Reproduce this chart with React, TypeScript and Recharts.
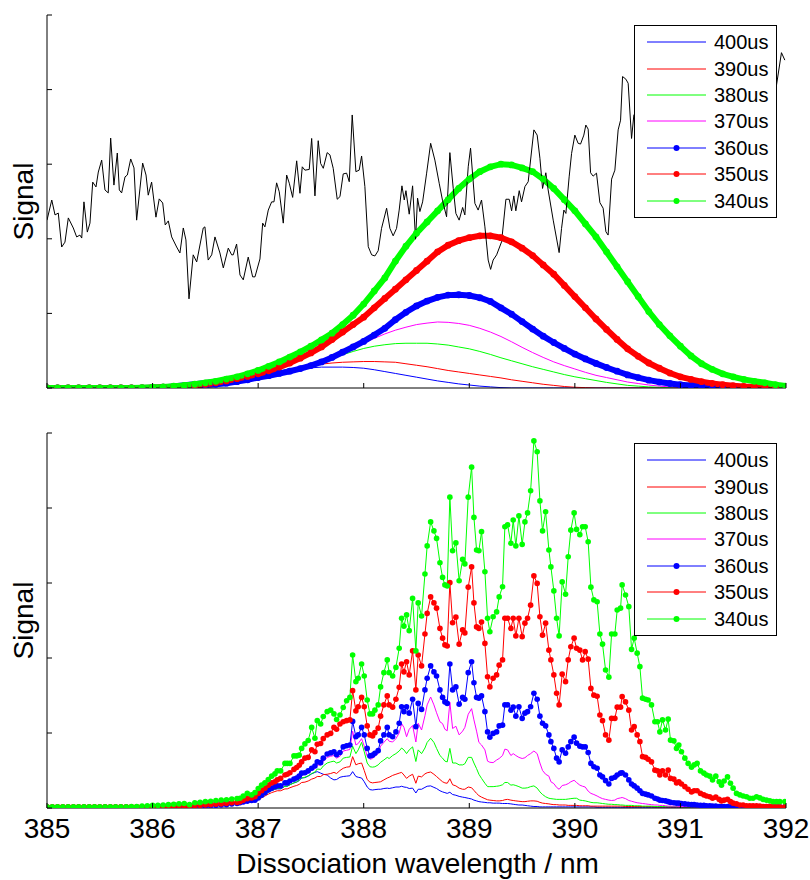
import React from "react";
import { LineChart, Line, XAxis, YAxis } from "recharts";

const FONT = "'Liberation Sans', Arial, Helvetica, sans-serif";
const BLUE = "#0000ff";
const RED = "#ff0000";
const GREEN = "#00ff00";
const MAGENTA = "#ff00ff";

const xTicks = [385, 386, 387, 388, 389, 390, 391, 392];
const yTicks = [0, 20, 40, 60, 80, 100];

const legendNames = ["400us", "390us", "380us", "370us", "360us", "350us", "340us"];
const legendColors = [BLUE, RED, GREEN, MAGENTA, BLUE, RED, GREEN];
const legendDots = [false, false, false, false, true, true, true];

// ---- top panel: smooth profiles, 0.1 nm steps ----
const topWl = [
  385.0, 385.1, 385.2, 385.3, 385.4, 385.5, 385.6, 385.7, 385.8, 385.9,
  386.0, 386.1, 386.2, 386.3, 386.4, 386.5, 386.6, 386.7, 386.8, 386.9,
  387.0, 387.1, 387.2, 387.3, 387.4, 387.5, 387.6, 387.7, 387.8, 387.9,
  388.0, 388.1, 388.2, 388.3, 388.4, 388.5, 388.6, 388.7, 388.8, 388.9,
  389.0, 389.1, 389.2, 389.3, 389.4, 389.5, 389.6, 389.7, 389.8, 389.9,
  390.0, 390.1, 390.2, 390.3, 390.4, 390.5, 390.6, 390.7, 390.8, 390.9,
  391.0, 391.1, 391.2, 391.3, 391.4, 391.5, 391.6, 391.7, 391.8, 391.9,
  392.0,
];
const top400 = [
  0, 0, 0, 0, 0, 0, 0, 0.1, 0.2, 0.4,
  0.6, 0.8, 1.1, 1.4, 1.7, 2.0, 2.4, 2.8, 3.2, 3.6,
  4.0, 4.3, 4.6, 4.9, 5.2, 5.4, 5.6, 5.6, 5.6, 5.5,
  5.3, 4.9, 4.4, 3.9, 3.4, 2.9, 2.4, 1.9, 1.5, 1.1,
  0.8, 0.5, 0.3, 0.1, 0, 0, 0, 0, 0, 0,
  0, 0, 0, 0, 0, 0, 0, 0, 0, 0,
  0, 0, 0, 0, 0, 0, 0, 0, 0, 0,
  0,
];
const top390 = [
  0, 0, 0, 0, 0, 0, 0, 0.1, 0.2, 0.3,
  0.4, 0.6, 0.8, 1.0, 1.3, 1.6, 2.0, 2.4, 2.8, 3.2,
  3.6, 4.0, 4.5, 5.0, 5.5, 6.0, 6.4, 6.7, 6.9, 7.0,
  7.1, 7.1, 7.0, 6.9, 6.5, 6.1, 5.7, 5.2, 4.7, 4.3,
  3.9, 3.5, 3.1, 2.7, 2.2, 1.8, 1.4, 1.0, 0.7, 0.4,
  0.2, 0.1, 0, 0, 0, 0, 0, 0, 0, 0,
  0, 0, 0, 0, 0, 0, 0, 0, 0, 0,
  0,
];
const top380 = [
  0, 0, 0, 0, 0, 0, 0, 0.1, 0.2, 0.3,
  0.4, 0.6, 0.8, 1.0, 1.3, 1.6, 2.0, 2.4, 2.8, 3.2,
  3.6, 4.0, 4.4, 4.9, 5.4, 6.0, 6.9, 7.9, 8.9, 9.8,
  10.6, 11.2, 11.6, 11.9, 12.0, 12.0, 12.0, 11.8, 11.5, 11.0,
  10.5, 9.8, 9.0, 8.1, 7.3, 6.5, 5.7, 5.0, 4.3, 3.6,
  3.0, 2.5, 2.0, 1.5, 1.1, 0.7, 0.5, 0.3, 0.2, 0.1,
  0, 0, 0, 0, 0, 0, 0, 0, 0, 0,
  0,
];
const top370 = [
  0, 0, 0, 0, 0, 0, 0, 0.1, 0.2, 0.3,
  0.4, 0.6, 0.8, 1.0, 1.3, 1.6, 2.0, 2.4, 2.8, 3.2,
  3.6, 4.0, 4.4, 4.9, 5.4, 6.1, 7.0, 8.1, 9.3, 10.6,
  12.0, 13.3, 14.5, 15.5, 16.3, 17.0, 17.4, 17.7, 17.6, 17.3,
  16.8, 16.0, 15.0, 13.8, 12.4, 10.9, 9.5, 8.2, 7.0, 6.0,
  5.1, 4.2, 3.4, 2.8, 2.2, 1.6, 1.2, 0.8, 0.5, 0.3,
  0.2, 0.1, 0, 0, 0, 0, 0, 0, 0, 0,
  0,
];
const top360 = [
  0, 0, 0, 0, 0, 0, 0, 0, 0, 0,
  0.1, 0.2, 0.3, 0.4, 0.6, 0.8, 1.0, 1.3, 1.7, 2.2,
  2.8, 3.3, 3.9, 4.5, 5.2, 6.0, 7.0, 8.2, 9.6, 11.0,
  12.5, 14.2, 16.0, 18.3, 20.3, 22.0, 23.3, 24.3, 24.9, 25.0,
  24.8, 24.2, 23.2, 21.5, 19.8, 17.8, 15.8, 13.9, 12.2, 10.6,
  9.1, 7.8, 6.6, 5.5, 4.5, 3.5, 2.8, 2.1, 1.6, 1.2,
  0.9, 0.7, 0.5, 0.3, 0.2, 0.1, 0, 0, 0, 0,
  0,
];
const top350 = [
  0, 0, 0, 0, 0, 0, 0, 0, 0, 0,
  0.1, 0.2, 0.3, 0.5, 0.7, 1.0, 1.4, 1.9, 2.5, 3.1,
  3.8, 4.6, 5.6, 6.7, 8.0, 9.4, 11.0, 13.0, 15.0, 17.0,
  19.0, 21.5, 24.0, 26.5, 29.0, 31.5, 34.0, 36.5, 38.3, 39.5,
  40.3, 40.8, 40.8, 40.3, 39.2, 37.5, 35.5, 33.0, 30.5, 27.5,
  24.5, 21.5, 18.5, 15.7, 13.0, 10.5, 8.5, 6.7, 5.3, 4.0,
  3.0, 2.3, 1.7, 1.2, 0.9, 0.6, 0.4, 0.3, 0.2, 0.1,
  0,
];
const top340 = [
  0, 0, 0, 0, 0, 0, 0, 0, 0, 0.1,
  0.2, 0.3, 0.5, 0.7, 1.0, 1.4, 1.8, 2.4, 3.0, 3.8,
  4.7, 5.8, 7.0, 8.3, 9.7, 11.2, 12.9, 14.7, 17.0, 19.5,
  22.5, 26.0, 29.5, 34.0, 38.0, 41.5, 44.5, 47.5, 50.5, 53.5,
  56.0, 58.0, 59.3, 60.0, 59.8, 59.0, 58.0, 56.0, 53.5, 50.5,
  47.5, 44.0, 40.5, 36.5, 32.5, 28.5, 24.5, 20.5, 17.0, 14.0,
  11.2, 8.6, 6.5, 5.0, 3.8, 3.0, 2.3, 1.8, 1.4, 0.9,
  0.5,
];

// noisy black reference trace (wavelength, signal)
const blackTrace: [number, number][] = [
  [385.0, 45.0], [385.045, 50.4], [385.076, 46.4], [385.107, 46.9], [385.139, 37.8],
  [385.17, 39.1], [385.202, 45.6], [385.249, 42.9], [385.281, 40.5], [385.312, 41.0],
  [385.329, 40.2], [385.35, 49.9], [385.382, 41.8], [385.407, 44.2], [385.433, 55.2],
  [385.464, 53.9], [385.486, 57.9], [385.518, 61.1], [385.549, 53.1], [385.58, 52.3],
  [385.603, 67.0], [385.634, 54.4], [385.666, 63.0], [385.685, 53.1], [385.707, 52.3],
  [385.739, 56.6], [385.761, 57.1], [385.793, 61.4], [385.824, 59.0], [385.849, 45.0],
  [385.881, 53.6], [385.906, 60.3], [385.938, 57.1], [385.959, 51.7], [385.991, 55.2],
  [386.032, 45.8], [386.063, 50.7], [386.096, 49.6], [386.12, 43.7], [386.149, 44.8],
  [386.181, 40.5], [386.228, 37.8], [386.259, 36.2], [386.291, 42.9], [386.316, 39.7],
  [386.345, 23.9], [386.385, 35.7], [386.418, 33.8], [386.48, 42.9], [386.496, 43.2],
  [386.527, 34.3], [386.56, 35.7], [386.591, 40.5], [386.638, 36.2], [386.67, 32.2],
  [386.717, 37.5], [386.749, 35.7], [386.764, 35.7], [386.796, 38.6], [386.828, 30.3],
  [386.859, 29.0], [386.906, 35.1], [386.948, 29.8], [386.97, 29.8], [387.017, 34.6],
  [387.043, 44.2], [387.064, 43.2], [387.096, 47.7], [387.128, 49.9], [387.15, 49.9],
  [387.175, 55.0], [387.2, 52.6], [387.238, 44.2], [387.27, 57.1], [387.295, 54.9],
  [387.327, 51.1], [387.365, 60.9], [387.396, 52.2], [387.418, 59.3], [387.443, 58.4],
  [387.484, 58.6], [387.507, 66.9], [387.538, 51.5], [387.569, 66.3], [387.592, 60.2],
  [387.617, 58.9], [387.654, 63.1], [387.68, 62.5], [387.711, 58.9], [387.749, 50.6],
  [387.775, 51.3], [387.806, 57.4], [387.838, 57.6], [387.863, 55.3], [387.891, 73.2],
  [387.926, 58.0], [387.957, 58.4], [387.98, 62.2], [388.011, 54.0], [388.043, 37.9],
  [388.075, 35.7], [388.106, 35.4], [388.137, 36.8], [388.169, 42.8], [388.217, 48.2],
  [388.248, 42.8], [388.279, 40.8], [388.311, 42.8], [388.336, 47.7], [388.362, 54.2],
  [388.384, 50.4], [388.4, 52.9], [388.431, 46.6], [388.463, 54.2], [388.491, 39.9],
  [388.51, 50.9], [388.532, 47.3], [388.558, 49.9], [388.596, 57.6], [388.634, 65.6],
  [388.674, 61.1], [388.715, 54.9], [388.747, 50.2], [388.785, 45.9], [388.816, 63.1],
  [388.848, 53.5], [388.873, 46.8], [388.904, 45.0], [388.937, 48.4], [388.958, 46.4],
  [388.99, 59.3], [389.012, 64.3], [389.053, 49.5], [389.084, 47.7], [389.116, 50.4],
  [389.148, 43.2], [389.179, 34.3], [389.202, 31.8], [389.226, 34.3], [389.259, 35.7],
  [389.306, 39.2], [389.347, 50.6], [389.378, 50.6], [389.401, 47.5], [389.422, 51.5],
  [389.441, 47.5], [389.473, 52.9], [389.495, 49.9], [389.527, 54.0], [389.558, 55.3],
  [389.612, 69.2], [389.643, 67.8], [389.669, 61.6], [389.694, 53.5], [389.725, 57.7],
  [389.747, 53.1], [389.795, 45.0], [389.851, 36.3], [389.874, 42.8], [389.896, 47.7],
  [389.915, 46.8], [389.946, 56.6], [389.969, 62.9], [390.0, 67.8], [390.031, 65.6],
  [390.054, 65.4], [390.085, 67.8], [390.104, 70.5], [390.126, 69.4], [390.149, 57.7],
  [390.173, 56.8], [390.205, 57.6], [390.237, 49.7], [390.268, 48.2], [390.294, 41.9],
  [390.315, 41.0], [390.348, 56.0], [390.379, 58.4], [390.41, 69.2], [390.433, 71.8],
  [390.452, 83.5], [390.483, 82.8], [390.505, 81.7], [390.537, 66.9], [390.559, 73.2],
  [390.65, 76.0], [390.8, 80.0], [391.0, 78.0], [391.2, 83.0], [391.4, 79.0],
  [391.6, 81.0], [391.8, 76.0], [391.903, 79.9], [391.957, 89.9], [391.989, 87.9],
];

// ---- bottom panel: structured spectra ----
const botWl = [
  385.0, 385.05, 385.1, 385.15, 385.2, 385.25, 385.3, 385.35, 385.4, 385.45,
  385.5, 385.55, 385.6, 385.65, 385.7, 385.75, 385.8, 385.85, 385.9, 385.95,
  386.0, 386.05, 386.1, 386.15, 386.2, 386.25, 386.3, 386.35, 386.4, 386.45,
  386.5, 386.55, 386.6, 386.65, 386.7, 386.75, 386.8,
  386.828, 386.859, 386.897, 386.938, 386.97, 387.001, 387.033, 387.064, 387.096, 387.128,
  387.159, 387.181, 387.213, 387.254, 387.276, 387.301, 387.339, 387.365, 387.389, 387.412,
  387.443, 387.474, 387.507, 387.538, 387.56, 387.592, 387.617, 387.654, 387.687, 387.718,
  387.743, 387.775, 387.806, 387.838, 387.869, 387.895, 387.926, 387.948, 387.98, 388.005,
  388.033, 388.059, 388.084, 388.106, 388.137, 388.16, 388.191, 388.223, 388.241, 388.274,
  388.305, 388.336, 388.359, 388.381, 388.406, 388.431, 388.463, 388.494, 388.516, 388.548,
  388.58, 388.601, 388.634, 388.665, 388.69, 388.722, 388.747, 388.769, 388.791, 388.816,
  388.842, 388.873, 388.904, 388.937, 388.958, 388.99, 389.022, 389.044, 389.069, 389.091,
  389.116, 389.148, 389.173, 389.195, 389.226, 389.259, 389.283, 389.315, 389.337, 389.363,
  389.394, 389.416, 389.441, 389.47, 389.501, 389.527, 389.552, 389.581, 389.612, 389.643,
  389.669, 389.694, 389.723, 389.754, 389.773, 389.801, 389.827, 389.851, 389.88, 389.912,
  389.937, 389.962, 389.993, 390.016, 390.047, 390.073, 390.098, 390.126, 390.152, 390.18,
  390.211, 390.237, 390.262, 390.291, 390.322, 390.348, 390.379, 390.401, 390.433, 390.448,
  390.48, 390.511, 390.537, 390.562, 390.59, 390.616, 390.641, 390.67, 390.694, 390.726,
  390.758, 390.783, 390.805, 390.83, 390.859, 390.884, 390.906, 390.938, 390.963, 390.985,
  391.01, 391.042, 391.073, 391.105, 391.13, 391.158, 391.19, 391.222, 391.247, 391.278,
  391.304, 391.335, 391.367, 391.389, 391.414, 391.446, 391.474, 391.499, 391.531, 391.563,
  391.594, 391.626, 391.657, 391.688, 391.721, 391.752, 391.783, 391.815, 391.847, 391.878,
  391.91, 391.941, 391.989,
];
const bot400 = [
  0, 0, 0, 0, 0, 0, 0, 0, 0, 0,
  0, 0, 0, 0, 0, 0.1, 0.3, 0.4, 0.5, 0.7,
  0.8, 1.0, 0.9, 1.1, 1.3, 1.2, 1.4, 0.9, 1.5, 1.7,
  1.6, 1.8, 1.9, 1.7, 1.8, 1.6, 1.4,
  1.3, 1.5, 1.7, 1.8, 1.9, 2.4, 3.0, 3.6, 4.2, 4.6,
  5.0, 5.1, 5.1, 5.8, 5.8, 6.2, 6.7, 6.9, 7.3, 8.0,
  8.1, 8.5, 9.1, 9.5, 9.7, 9.3, 9.0, 8.8, 8.0, 7.5,
  7.6, 8.2, 8.4, 8.5, 8.6, 9.7, 8.4, 8.2, 8.0, 7.0,
  5.6, 4.9, 4.8, 4.9, 5.0, 5.0, 5.2, 5.3, 5.2, 5.4,
  5.6, 5.6, 5.8, 5.6, 5.5, 5.2, 5.3, 4.0, 5.0, 5.0,
  5.5, 5.8, 5.9, 5.5, 5.2, 4.6, 4.3, 4.1, 3.9, 4.2,
  3.6, 3.4, 3.1, 2.9, 2.8, 2.6, 2.4, 2.1, 1.9, 1.7,
  1.6, 1.5, 1.4, 1.4, 1.3, 1.3, 1.3, 1.2, 1.2, 1.2,
  1.1, 1.0, 0.9, 0.8, 0.8, 0.7, 0.6, 0.5, 0.4, 0.4,
  0.3, 0.3, 0.3, 0.3, 0.3, 0.3, 0.3, 0.3, 0.3, 0.3,
  0.3, 0.3, 0.3, 0.3, 0.3, 0.3, 0.3, 0.3, 0.3, 0.3,
  0.2, 0.2, 0.2, 0.2, 0.2, 0.2, 0.2, 0.2, 0.2, 0.2,
  0.2, 0.2, 0.2, 0.2, 0.2, 0.2, 0.2, 0.2, 0.2, 0.2,
  0.2, 0.2, 0.2, 0.2, 0.2, 0.2, 0.2, 0.2, 0.2, 0.2,
  0.2, 0.2, 0.2, 0.2, 0.2, 0.2, 0.2, 0.2, 0.2, 0.2,
  0.2, 0.2, 0.2, 0.2, 0.2, 0.2, 0.2, 0.2, 0.2, 0.2,
  0.2, 0.2, 0.2, 0.2, 0.2, 0.2, 0.2, 0.2, 0.2, 0.2,
  0.2, 0.2, 0.2,
];
const bot390 = [
  0, 0, 0, 0, 0, 0, 0, 0, 0, 0,
  0, 0, 0, 0, 0, 0.1, 0.2, 0.3, 0.4, 0.5,
  0.6, 0.7, 0.8, 0.8, 1.0, 1.1, 1.0, 0.8, 1.2, 1.3,
  1.3, 1.4, 1.4, 1.5, 1.4, 1.3, 1.1,
  1.1, 1.3, 1.5, 1.6, 1.7, 2.2, 2.7, 3.2, 3.7, 4.1,
  4.4, 4.6, 4.6, 5.1, 5.1, 5.4, 5.8, 6.0, 6.3, 6.8,
  6.9, 7.2, 7.7, 8.0, 8.4, 8.4, 8.9, 9.0, 9.2, 9.5,
  9.2, 10.0, 10.6, 10.9, 11.0, 13.7, 11.5, 11.8, 12.0, 10.0,
  7.6, 6.9, 6.7, 6.8, 6.9, 7.0, 7.5, 8.0, 8.2, 8.7,
  9.0, 9.3, 9.5, 8.8, 7.9, 8.5, 9.0, 6.6, 8.5, 8.3,
  9.1, 9.4, 9.6, 9.0, 8.4, 7.6, 7.0, 6.7, 6.6, 7.8,
  6.2, 5.9, 5.3, 5.0, 5.0, 5.6, 5.4, 4.7, 3.9, 3.3,
  2.9, 2.5, 2.2, 2.1, 2.0, 1.9, 1.9, 2.0, 2.2, 2.3,
  2.1, 2.0, 1.9, 1.8, 1.7, 1.7, 1.8, 1.9, 1.9, 1.8,
  1.5, 1.3, 1.2, 1.1, 1.0, 0.9, 0.9, 0.8, 0.8, 0.8,
  0.7, 0.7, 0.7, 0.7, 0.6, 0.6, 0.6, 0.6, 0.5, 0.5,
  0.5, 0.5, 0.5, 0.5, 0.5, 0.5, 0.5, 0.5, 0.5, 0.5,
  0.4, 0.4, 0.4, 0.4, 0.4, 0.4, 0.4, 0.4, 0.4, 0.4,
  0.3, 0.3, 0.3, 0.3, 0.3, 0.3, 0.3, 0.3, 0.3, 0.3,
  0.3, 0.3, 0.3, 0.3, 0.3, 0.3, 0.3, 0.3, 0.3, 0.3,
  0.3, 0.3, 0.3, 0.3, 0.3, 0.3, 0.3, 0.3, 0.3, 0.3,
  0.3, 0.3, 0.3, 0.3, 0.3, 0.3, 0.3, 0.3, 0.3, 0.3,
  0.3, 0.3, 0.3,
];
const bot380 = [
  0, 0, 0, 0, 0, 0, 0, 0, 0, 0,
  0, 0, 0, 0, 0, 0.1, 0.2, 0.3, 0.4, 0.5,
  0.6, 0.7, 0.7, 0.9, 1.0, 1.1, 1.1, 0.8, 1.2, 1.4,
  1.4, 1.4, 1.5, 1.5, 1.5, 1.4, 1.2,
  1.2, 1.4, 1.6, 1.8, 1.9, 2.4, 3.0, 3.6, 4.2, 4.7,
  5.0, 5.2, 5.2, 5.8, 5.8, 6.2, 6.7, 7.0, 7.4, 8.0,
  8.2, 8.6, 9.2, 9.6, 10.4, 10.3, 11.2, 12.0, 12.3, 12.5,
  12.0, 12.3, 13.3, 13.5, 13.6, 16.5, 14.5, 15.5, 17.5, 15.0,
  12.0, 11.0, 10.9, 11.0, 11.5, 12.2, 12.8, 13.5, 13.2, 14.0,
  14.5, 15.2, 16.0, 15.5, 14.5, 15.5, 16.3, 12.4, 15.5, 14.5,
  16.0, 17.5, 18.6, 17.5, 15.9, 14.0, 13.3, 12.5, 12.3, 15.9,
  12.0, 12.0, 11.5, 11.5, 11.8, 13.5, 13.5, 12.0, 10.5, 9.0,
  7.9, 6.6, 5.7, 5.7, 5.7, 5.8, 5.9, 6.2, 6.8, 6.8,
  6.1, 6.2, 6.0, 5.7, 5.3, 5.3, 5.4, 5.7, 5.9, 5.3,
  4.3, 3.6, 3.0, 2.6, 2.5, 2.4, 2.3, 2.3, 2.3, 2.3,
  2.4, 2.5, 2.6, 2.6, 2.1, 2.0, 1.9, 1.7, 1.5, 1.4,
  1.4, 1.3, 1.2, 1.1, 1.0, 1.0, 0.9, 0.9, 0.8, 0.8,
  0.7, 0.7, 0.7, 0.6, 0.6, 0.6, 0.5, 0.5, 0.5, 0.5,
  0.4, 0.4, 0.4, 0.4, 0.4, 0.4, 0.4, 0.4, 0.4, 0.4,
  0.3, 0.3, 0.3, 0.3, 0.3, 0.3, 0.3, 0.3, 0.3, 0.3,
  0.2, 0.2, 0.2, 0.2, 0.2, 0.2, 0.2, 0.2, 0.2, 0.2,
  0.2, 0.2, 0.2, 0.2, 0.2, 0.2, 0.2, 0.2, 0.2, 0.2,
  0.2, 0.2, 0.2,
];
const bot370 = [
  0, 0, 0, 0, 0, 0, 0, 0, 0, 0,
  0, 0, 0, 0, 0, 0.1, 0.2, 0.3, 0.4, 0.5,
  0.6, 0.8, 0.7, 0.9, 1.0, 1.2, 1.1, 0.8, 1.3, 1.5,
  1.4, 1.5, 1.6, 1.5, 1.6, 1.5, 1.3,
  1.3, 1.5, 1.7, 1.9, 2.0, 2.6, 3.2, 3.9, 4.5, 5.0,
  5.4, 5.6, 5.6, 6.3, 6.3, 6.8, 7.3, 7.6, 8.0, 8.8,
  8.9, 9.3, 10.0, 10.5, 11.5, 11.4, 12.5, 13.5, 13.8, 14.0,
  13.3, 13.8, 15.2, 15.4, 15.6, 20.5, 16.8, 17.2, 18.5, 16.5,
  13.8, 13.0, 13.2, 13.8, 14.5, 16.5, 17.5, 18.5, 17.8, 17.6,
  18.5, 20.0, 22.5, 21.5, 19.0, 21.0, 22.0, 17.6, 22.6, 20.8,
  24.6, 27.5, 29.6, 27.5, 25.4, 23.0, 22.5, 21.0, 20.6, 28.2,
  21.2, 21.8, 19.5, 20.5, 21.5, 25.0, 26.5, 23.5, 20.5, 17.5,
  16.8, 15.5, 12.5, 12.2, 12.1, 12.8, 13.2, 14.0, 15.7, 15.5,
  14.0, 14.5, 14.0, 13.5, 13.2, 13.4, 14.0, 14.5, 15.2, 14.5,
  12.0, 10.0, 9.0, 8.5, 7.0, 6.5, 5.5, 5.0, 6.0, 6.2,
  6.5, 7.0, 7.4, 6.8, 6.1, 5.8, 5.6, 4.5, 3.9, 3.6,
  3.2, 2.8, 2.5, 2.3, 2.1, 2.0, 2.1, 2.5, 2.7, 2.8,
  2.5, 2.0, 1.8, 1.6, 1.4, 1.3, 1.2, 1.1, 1.0, 0.9,
  0.8, 0.8, 0.7, 0.7, 0.6, 0.5, 0.5, 0.5, 0.5, 0.4,
  0.4, 0.4, 0.4, 0.4, 0.3, 0.3, 0.3, 0.3, 0.3, 0.3,
  0.3, 0.3, 0.3, 0.3, 0.3, 0.3, 0.3, 0.3, 0.3, 0.3,
  0.2, 0.2, 0.2, 0.2, 0.2, 0.2, 0.2, 0.2, 0.2, 0.2,
  0.2, 0.2, 0.2,
];
const bot360 = [
  0.2, 0.2, 0.2, 0.2, 0.2, 0.2, 0.2, 0.2, 0.2, 0.2,
  0.2, 0.2, 0.2, 0.2, 0.2, 0.2, 0.2, 0.2, 0.2, 0.2,
  0.2, 0.2, 0.2, 0.2, 0.3, 0.3, 0.3, 0.2, 0.4, 0.5,
  0.5, 0.6, 0.7, 0.8, 0.9, 1.1, 1.2,
  1.4, 1.6, 1.8, 2.0, 2.1, 2.7, 3.4, 4.1, 4.8, 5.3,
  5.7, 5.9, 5.9, 6.7, 6.7, 7.2, 7.7, 8.0, 8.5, 9.3,
  9.4, 9.9, 10.6, 11.2, 12.3, 12.1, 13.3, 14.4, 14.7, 15.0,
  14.2, 14.8, 16.3, 16.6, 16.8, 23.1, 19.0, 19.5, 21.5, 19.5,
  15.9, 13.9, 14.1, 14.6, 15.3, 17.9, 19.5, 21.5, 19.5, 19.0,
  20.3, 22.6, 27.0, 25.7, 27.0, 25.3, 29.0, 21.7, 27.9, 26.3,
  31.5, 34.6, 37.9, 36.3, 35.2, 31.5, 29.5, 28.3, 27.9, 38.4,
  31.5, 32.3, 27.7, 29.5, 29.0, 36.1, 39.0, 33.4, 29.5, 29.3,
  29.9, 25.7, 20.3, 18.9, 19.9, 20.3, 21.9, 22.1, 27.5, 27.5,
  26.1, 26.9, 24.5, 27.0, 23.9, 25.3, 25.7, 27.0, 30.6, 29.0,
  24.5, 22.6, 21.9, 19.5, 17.7, 15.9, 13.3, 12.3, 15.5, 14.6,
  16.3, 17.7, 18.9, 17.3, 16.5, 16.3, 16.3, 14.8, 11.9, 11.0,
  10.6, 8.8, 8.3, 7.3, 6.4, 7.9, 8.2, 8.8, 9.3, 9.4,
  8.8, 7.5, 6.4, 5.9, 5.3, 4.6, 3.9, 3.7, 3.5, 3.2,
  2.6, 2.4, 2.1, 2.0, 1.9, 1.7, 1.5, 1.4, 1.3, 1.3,
  1.2, 1.1, 1.0, 0.9, 0.9, 0.8, 0.7, 0.7, 0.6, 0.6,
  0.5, 0.5, 0.4, 0.4, 0.4, 0.4, 0.3, 0.3, 0.3, 0.3,
  0.3, 0.3, 0.3, 0.3, 0.3, 0.3, 0.3, 0.3, 0.3, 0.3,
  0.3, 0.3, 0.3,
];
const bot350 = [
  0.3, 0.3, 0.3, 0.3, 0.3, 0.3, 0.3, 0.3, 0.3, 0.3,
  0.3, 0.3, 0.3, 0.3, 0.3, 0.3, 0.3, 0.3, 0.3, 0.3,
  0.3, 0.3, 0.3, 0.4, 0.4, 0.5, 0.5, 0.3, 0.6, 0.7,
  0.8, 0.9, 1.0, 1.1, 1.2, 1.4, 1.5,
  1.7, 2.1, 2.5, 2.7, 3.0, 3.9, 4.6, 5.3, 6.1, 6.7,
  7.0, 7.5, 7.9, 8.8, 9.0, 9.4, 10.3, 10.8, 11.4, 12.3,
  13.3, 13.5, 15.5, 15.0, 17.0, 17.2, 18.5, 19.5, 19.9, 21.5,
  21.0, 22.4, 23.0, 23.3, 23.5, 31.3, 25.9, 27.0, 29.5, 27.0,
  21.9, 19.5, 19.2, 20.1, 21.3, 24.5, 27.5, 29.9, 27.5, 26.9,
  29.0, 32.2, 38.4, 36.3, 39.0, 35.5, 41.9, 31.5, 40.8, 37.9,
  46.4, 51.9, 56.3, 54.7, 53.3, 47.9, 45.3, 43.5, 43.2, 60.1,
  49.4, 50.9, 43.7, 47.5, 46.7, 58.9, 64.3, 54.7, 48.3, 47.9,
  49.6, 43.9, 35.0, 32.3, 34.6, 35.5, 38.1, 39.5, 50.6, 50.6,
  47.9, 50.6, 45.9, 50.6, 45.7, 49.3, 50.6, 54.1, 61.9, 59.9,
  51.0, 46.1, 49.3, 42.1, 39.5, 35.5, 30.6, 27.5, 35.7, 33.7,
  39.5, 43.0, 45.3, 42.6, 42.1, 39.5, 41.7, 39.7, 31.9, 30.1,
  29.8, 24.8, 23.3, 19.5, 18.1, 23.9, 23.9, 26.9, 26.9, 29.7,
  28.3, 26.1, 20.8, 21.7, 19.5, 17.7, 13.7, 13.5, 13.0, 12.3,
  10.1, 9.9, 8.8, 9.9, 8.8, 10.1, 7.9, 7.7, 6.7, 7.0,
  6.4, 5.7, 5.0, 4.3, 4.6, 4.6, 3.9, 3.5, 3.2, 3.0,
  2.6, 2.9, 2.3, 1.9, 2.1, 2.3, 1.7, 1.3, 1.1, 0.8,
  0.8, 0.6, 0.6, 0.6, 0.6, 0.5, 0.4, 0.4, 0.4, 0.3,
  0.3, 0.3, 0.3,
];
const bot340 = [
  0.3, 0.3, 0.3, 0.3, 0.3, 0.3, 0.3, 0.3, 0.3, 0.3,
  0.3, 0.3, 0.3, 0.3, 0.3, 0.3, 0.4, 0.4, 0.5, 0.6,
  0.7, 0.7, 0.8, 0.9, 1.0, 1.1, 1.2, 0.9, 1.4, 1.5,
  1.7, 1.8, 2.0, 2.1, 2.2, 2.4, 2.5,
  2.6, 3.2, 3.9, 3.5, 4.1, 5.2, 6.1, 6.7, 7.6, 8.5,
  9.1, 9.9, 9.9, 11.9, 11.9, 11.9, 13.9, 13.9, 14.1, 15.9,
  17.1, 18.0, 21.5, 18.6, 23.3, 22.4, 24.4, 25.7, 26.1, 25.1,
  23.6, 24.8, 26.8, 28.6, 29.5, 40.8, 33.7, 34.6, 38.4, 35.2,
  28.8, 25.1, 25.1, 26.1, 27.5, 32.3, 36.1, 39.5, 36.1, 35.2,
  37.5, 42.6, 50.6, 48.5, 51.5, 47.3, 55.9, 41.9, 54.7, 51.2,
  62.4, 69.9, 76.3, 73.9, 71.9, 65.4, 61.5, 59.5, 59.2, 82.9,
  68.6, 70.7, 60.6, 66.3, 65.1, 82.9, 90.9, 77.5, 68.8, 68.6,
  73.7, 63.0, 50.6, 47.0, 51.0, 52.3, 56.3, 59.0, 75.0, 75.5,
  70.6, 76.8, 69.9, 77.9, 70.3, 76.3, 78.7, 84.6, 97.9, 95.0,
  81.9, 73.9, 79.0, 68.8, 64.3, 57.9, 50.6, 45.9, 60.3, 57.0,
  67.0, 74.1, 78.7, 74.3, 72.9, 75.0, 75.0, 71.0, 58.9, 55.5,
  55.0, 46.4, 43.7, 36.8, 34.9, 46.4, 46.4, 52.8, 53.3, 59.5,
  56.8, 53.7, 42.3, 45.3, 41.3, 37.7, 29.3, 29.0, 28.8, 27.5,
  23.0, 23.0, 20.3, 23.5, 20.8, 23.7, 18.1, 17.9, 15.9, 16.8,
  15.0, 13.3, 11.9, 10.9, 11.5, 11.9, 9.9, 9.3, 8.8, 8.5,
  7.5, 8.5, 7.0, 6.1, 7.2, 8.3, 6.6, 5.3, 3.9, 3.5,
  3.2, 3.0, 2.6, 2.6, 3.0, 2.7, 2.3, 2.1, 1.9, 1.7,
  1.7, 1.7, 1.7,
];

const topData = topWl.map((wl, i) => ({
  wl,
  s400: top400[i], s390: top390[i], s380: top380[i], s370: top370[i],
  s360: top360[i], s350: top350[i], s340: top340[i],
}));
const blackData = blackTrace.map(([wl, sig]) => ({ wl, sig }));
const botData = botWl.map((wl, i) => ({
  wl,
  s400: bot400[i], s390: bot390[i], s380: bot380[i], s370: bot370[i],
  s360: bot360[i], s350: bot350[i], s340: bot340[i],
}));

function TickX({ x, y, payload, withLabel }: any) {
  return (
    <g>
      <line x1={x} y1={y} x2={x} y2={y - 5} stroke="#000" />
      {withLabel && (
        <text x={x} y={y + 30} textAnchor="middle" fontFamily={FONT} fontSize={28} fill="#000">
          {payload.value}
        </text>
      )}
    </g>
  );
}

function TickY({ x, y }: any) {
  return <line x1={x} y1={y} x2={x + 5} y2={y} stroke="#000" />;
}

function SignalLabel({ viewBox }: any) {
  const cx = 33;
  const cy = viewBox.y + viewBox.height / 2;
  return (
    <text x={cx} y={cy} transform={`rotate(-90 ${cx} ${cy})`} textAnchor="middle" fontFamily={FONT} fontSize={28} fill="#000">
      Signal
    </text>
  );
}

function XTitle({ viewBox }: any) {
  return (
    <text x={viewBox.x + viewBox.width / 2 + 1} y={viewBox.y + 65} textAnchor="middle" fontFamily={FONT} fontSize={28} fill="#000">
      Dissociation wavelength / nm
    </text>
  );
}

function LegendBox({ top }: { top: number }) {
  return (
    <div
      style={{
        position: "absolute", left: 634, top, width: 143, height: 193,
        boxSizing: "border-box", border: "1px solid #000", background: "#fff", paddingTop: 3,
      }}
    >
      {legendNames.map((name, i) => (
        <div key={name} style={{ display: "flex", alignItems: "center", height: 26.4 }}>
          <svg width={79} height={10} style={{ flex: "none", display: "block" }}>
            <line x1={12} y1={5} x2={71} y2={5} stroke={legendColors[i]} strokeWidth={1} />
            {legendDots[i] && <circle cx={41.5} cy={5} r={3} fill={legendColors[i]} />}
          </svg>
          <span style={{ fontFamily: FONT, fontSize: 20, lineHeight: "20px", color: "#000" }}>{name}</span>
        </div>
      ))}
    </div>
  );
}

function thin(key: string, color: string) {
  return (
    <Line key={key} type="linear" dataKey={key} stroke={color} strokeWidth={1} dot={false} isAnimationActive={false} />
  );
}

export default function App() {
  return (
    <div style={{ position: "absolute", left: 0, top: 0, width: 810, height: 880, background: "#fff" }}>
      <div style={{ position: "absolute", left: 0, top: 0 }}>
        <LineChart width={810} height={400} data={topData} margin={{ top: 15, right: 24, bottom: 0, left: 46 }}>
          <XAxis
            dataKey="wl" type="number" domain={[385, 392]} ticks={xTicks} interval={0}
            height={12} tickSize={0} tickMargin={0} tickLine={false}
            axisLine={{ stroke: "#000" }} tick={<TickX withLabel={false} />} allowDataOverflow
          />
          <YAxis
            type="number" domain={[0, 100]} ticks={yTicks} interval={0} width={1}
            tickSize={0} tickMargin={0} tickLine={false} axisLine={{ stroke: "#000" }}
            tick={<TickY />} label={<SignalLabel />} allowDataOverflow
          />
          {thin("s400", BLUE)}
          {thin("s390", RED)}
          {thin("s380", GREEN)}
          {thin("s370", MAGENTA)}
          <Line type="linear" dataKey="s360" stroke={BLUE} strokeWidth={6} dot={{ r: 3.4, fill: BLUE, stroke: "none" }} isAnimationActive={false} />
          <Line type="linear" dataKey="s350" stroke={RED} strokeWidth={6} dot={{ r: 3.4, fill: RED, stroke: "none" }} isAnimationActive={false} />
          <Line type="linear" dataKey="s340" stroke={GREEN} strokeWidth={6} dot={{ r: 3.4, fill: GREEN, stroke: "none" }} isAnimationActive={false} />
          <Line data={blackData} type="linear" dataKey="sig" stroke="#000" strokeWidth={1} dot={false} isAnimationActive={false} />
        </LineChart>
      </div>
      <div style={{ position: "absolute", left: 0, top: 420 }}>
        <LineChart width={810} height={460} data={botData} margin={{ top: 13, right: 24, bottom: 0, left: 46 }}>
          <XAxis
            dataKey="wl" type="number" domain={[385, 392]} ticks={xTicks} interval={0}
            height={72} tickSize={0} tickMargin={0} tickLine={false}
            axisLine={{ stroke: "#000" }} tick={<TickX withLabel />} label={<XTitle />} allowDataOverflow
          />
          <YAxis
            type="number" domain={[0, 100]} ticks={yTicks} interval={0} width={1}
            tickSize={0} tickMargin={0} tickLine={false} axisLine={{ stroke: "#000" }}
            tick={<TickY />} label={<SignalLabel />} allowDataOverflow
          />
          {thin("s400", BLUE)}
          {thin("s390", RED)}
          {thin("s380", GREEN)}
          {thin("s370", MAGENTA)}
          <Line type="linear" dataKey="s360" stroke={BLUE} strokeWidth={1} dot={{ r: 2.8, fill: BLUE, stroke: "none" }} isAnimationActive={false} />
          <Line type="linear" dataKey="s350" stroke={RED} strokeWidth={1} dot={{ r: 2.8, fill: RED, stroke: "none" }} isAnimationActive={false} />
          <Line type="linear" dataKey="s340" stroke={GREEN} strokeWidth={1} dot={{ r: 2.8, fill: GREEN, stroke: "none" }} isAnimationActive={false} />
        </LineChart>
      </div>
      <LegendBox top={25} />
      <LegendBox top={443} />
    </div>
  );
}
